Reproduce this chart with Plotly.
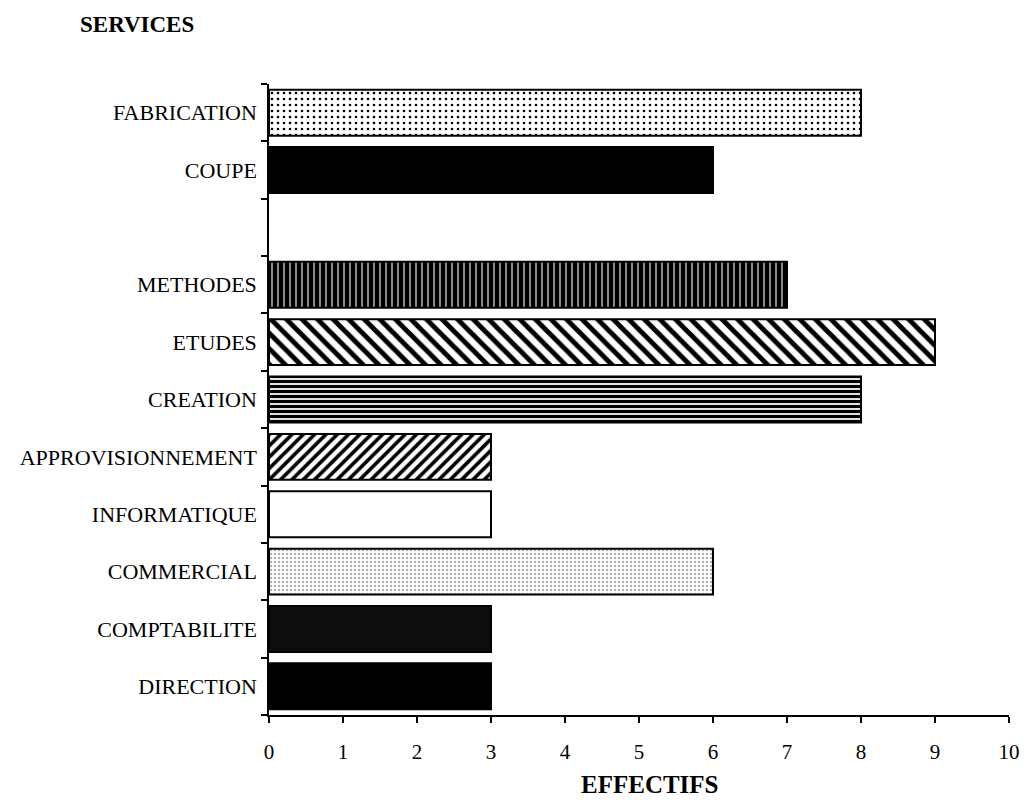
import plotly.graph_objects as go

# Data (bottom to top); the blank entry is the empty slot between METHODES and COUPE
services = ["DIRECTION", "COMPTABILITE", "COMMERCIAL", "INFORMATIQUE",
            "APPROVISIONNEMENT", "CREATION", "ETUDES", "METHODES", " ",
            "COUPE", "FABRICATION"]
effectifs = [3, 3, 6, 3, 3, 8, 9, 7, None, 6, 8]
x_ticks = [0, 1, 2, 3, 4, 5, 6, 7, 8, 9, 10]

# Styles per bar
bg_colors = ["#000000", "#0d0d0d", "#ffffff", "#ffffff", "#ffffff", "#ffffff",
             "#ffffff", "#000000", "#ffffff", "#000000", "#ffffff"]
fg_colors = ["#000000", "#000000", "#b4b4b4", "#000000", "#000000", "#000000",
             "#000000", "#ffffff", "#000000", "#000000", "#000000"]
shapes = ["", "", ".", "", "/", "-", "\\", "|", "", "", "."]
sizes = [8, 8, 4, 8, 8, 5, 11, 6, 8, 8, 6]
solidity = [0.3, 0.3, 0.3, 0.3, 0.45, 0.65, 0.45, 0.18, 0.3, 0.3, 0.15]

font_family = "Liberation Serif, Times New Roman, serif"

fig = go.Figure()
for name, val, bg, fg, shp, sz, sol in zip(services, effectifs, bg_colors,
                                          fg_colors, shapes, sizes, solidity):
    if val is None:
        continue
    fig.add_trace(go.Bar(
        x=[val], y=[name], orientation="h", width=0.8, name=name,
        marker=dict(
            color=bg,
            line=dict(color="black", width=2),
            pattern=dict(shape=shp, bgcolor=bg, fgcolor=fg, size=sz,
                         solidity=sol, fillmode="replace"),
        ),
        showlegend=False,
    ))

fig.update_layout(
    width=1031, height=802,
    paper_bgcolor="white", plot_bgcolor="white",
    margin=dict(l=261, r=30, t=76, b=95),
    font=dict(family=font_family, color="black", size=22),
    barmode="overlay",
    xaxis=dict(
        range=[0, 10], tickvals=x_ticks, showgrid=False, zeroline=False,
        showline=True, linecolor="black", linewidth=1.5,
        ticks="outside", ticklen=6, tickwidth=1.5, tickcolor="black",
        tickfont=dict(size=21), ticklabelstandoff=11,
    ),
    yaxis=dict(
        type="category", categoryorder="array", categoryarray=services,
        range=[-0.5, len(services) - 0.5],
        showgrid=False, zeroline=False, showline=True, linecolor="black",
        linewidth=1.5, ticks="outside", tickson="boundaries", ticklen=6,
        tickwidth=1.5, tickcolor="black", tickfont=dict(size=22),
        ticklabelstandoff=6,
    ),
    annotations=[
        dict(text="<b>SERVICES</b>", xref="paper", yref="paper",
             x=(78 - 269) / 740, y=(715 - 24) / 631, xanchor="left",
             yanchor="middle", showarrow=False, font=dict(size=23)),
        dict(text="<b>EFFECTIFS</b>", xref="paper", yref="paper",
             x=(650 - 269) / 740, y=(715 - 784) / 631, xanchor="center",
             yanchor="middle", showarrow=False, font=dict(size=25)),
    ],
)

fig.write_html("out.html")
